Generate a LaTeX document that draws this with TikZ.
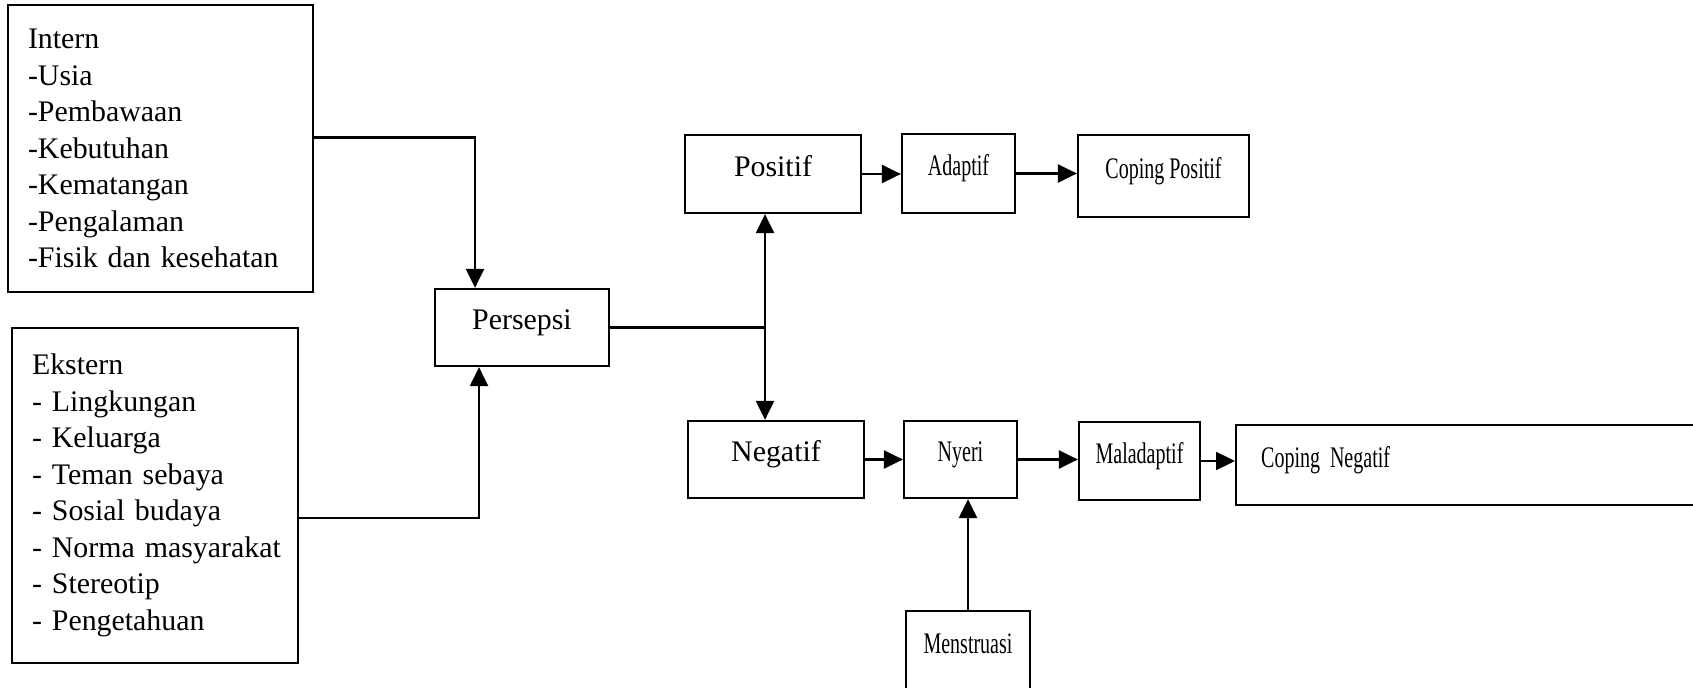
\documentclass[tikz,border=0pt]{standalone}
\usepackage{fontspec}
\setmainfont{Liberation Serif}
\newfontfamily\narrowserif[FakeStretch=0.67]{Liberation Serif}
\usetikzlibrary{arrows.meta}

\tikzset{
  listbox/.style={draw, line width=1.3pt, align=left, inner sep=0pt, inner xsep=0.4cm},
  box/.style={draw, line width=1.3pt, text height=0.4cm, text depth=0.3cm, inner sep=0pt},
  narrow/.style={font=\narrowserif\fontsize{17}{20.8}\selectfont},
  link/.style={line width=1.3pt},
}

\begin{document}
\begin{tikzpicture}[x=0.02cm, y=-0.02cm, >={Triangle[length=0.38cm,width=0.36cm]},
    font=\fontsize{17}{20.8}\selectfont]
    \useasboundingbox (0,0) rectangle (1693,688);

    % factors
    \node[listbox, minimum height=5.74cm, text width=5.3cm] (intern) at (160.5,148.5)
        {Intern\\-Usia\\-Pembawaan\\-Kebutuhan\\-Kematangan\\-Pengalaman\\\mbox{-Fisik dan kesehatan}};
    \node[listbox, minimum height=6.7cm, text width=4.92cm] (ekstern) at (155,495.5)
        {Ekstern\\- Lingkungan\\- Keluarga\\\mbox{- Teman sebaya}\\\mbox{- Sosial budaya}\\\mbox{- Norma masyarakat}\\- Stereotip\\- Pengetahuan};

    \node[box, minimum width=3.48cm, minimum height=1.54cm] (persepsi) at (522,327.5) {Persepsi};

    % upper row
    \node[box, minimum width=3.52cm, minimum height=1.56cm] (positif) at (773,174) {Positif};
    \node[box, narrow, minimum width=2.26cm, minimum height=1.58cm] (adaptif) at (958.5,173.5) {Adaptif};
    \node[box, narrow, minimum width=3.42cm, minimum height=1.64cm] (copingpos) at (1163.5,176) {Coping Positif};

    % lower row
    \node[box, minimum width=3.52cm, minimum height=1.54cm] (negatif) at (776,459.5) {Negatif};
    \node[box, narrow, minimum width=2.26cm, minimum height=1.54cm] (nyeri) at (960.5,459.5) {Nyeri};
    \node[box, narrow, minimum width=2.42cm, minimum height=1.56cm] (maladaptif) at (1139.5,461) {Maladaptif};
    \node[box, narrow, anchor=west, minimum height=1.6cm, text width=8.7cm, align=left,
        inner xsep=0.5cm] (copingneg) at (1235,465) {Coping Negatif};
    \node[box, narrow, minimum width=2.48cm, minimum height=1.6cm] (menstruasi) at (968,651) {Menstruasi};

    \draw[link,->] ([yshift=0.22cm]intern.east) -| ([xshift=-0.94cm]persepsi.north);
    \draw[link,->] ([yshift=-0.45cm]ekstern.east) -| ([xshift=-0.86cm]persepsi.south);

    \draw[link,<->] ([xshift=-0.16cm]positif.south) coordinate (ptop) -- (ptop |- negatif.north);
    \draw[link] (persepsi.east) -- (persepsi.east -| ptop);

    \draw[link,->] (positif.east) -- (positif.east -| adaptif.west);
    \draw[link,->] (adaptif.east) -- (adaptif.east -| copingpos.west);
    \draw[link,->] (negatif.east) -- (negatif.east -| nyeri.west);
    \draw[link,->] (nyeri.east) -- (nyeri.east -| maladaptif.west);
    \draw[link,->] (maladaptif.east) -- (maladaptif.east -| copingneg.west);
    \draw[link,->] (menstruasi.north) -- (menstruasi.north |- nyeri.south);
\end{tikzpicture}
\end{document}
